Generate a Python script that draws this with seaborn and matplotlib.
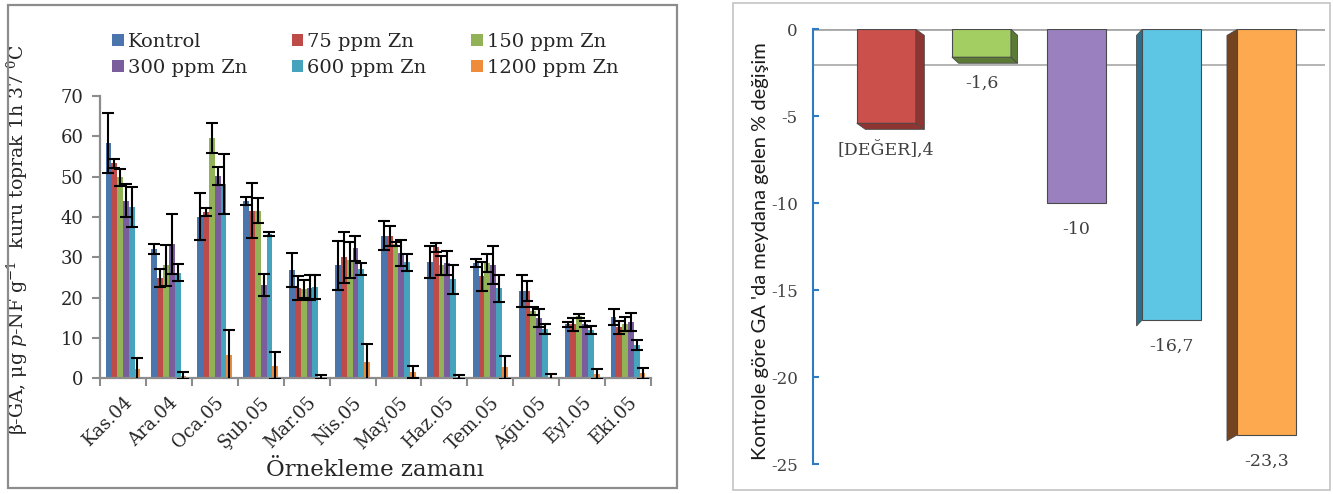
import numpy as np
import pandas as pd
import matplotlib
matplotlib.use("Agg")
import matplotlib.pyplot as plt
from matplotlib.patches import Patch, Polygon, Rectangle
import seaborn as sns

# ---------------- data ----------------
months = ["Kas.04", "Ara.04", "Oca.05", "Şub.05", "Mar.05", "Nis.05",
          "May.05", "Haz.05", "Tem.05", "Ağu.05", "Eyl.05", "Eki.05"]
series = ["Kontrol", "75 ppm Zn", "150 ppm Zn", "300 ppm Zn", "600 ppm Zn", "1200 ppm Zn"]

kontrol = [58.4, 32.0, 40.1, 44.0, 26.9, 28.0, 35.3, 28.8, 28.5, 21.6, 13.4, 15.1]
kontrol_err = [7.4, 1.3, 5.8, 1.0, 4.2, 6.0, 3.6, 4.0, 1.0, 4.0, 0.6, 2.0]
zn75 = [53.3, 24.8, 41.3, 41.6, 22.3, 30.0, 35.3, 32.5, 25.3, 21.6, 13.4, 12.7]
zn75_err = [1.2, 2.2, 1.0, 6.8, 3.0, 6.3, 2.5, 1.1, 3.6, 2.5, 1.6, 1.6]
zn150 = [49.8, 28.0, 59.6, 41.6, 22.1, 29.3, 33.3, 28.0, 28.5, 16.7, 15.4, 13.4]
zn150_err = [2.1, 5.0, 3.8, 3.1, 2.3, 4.5, 0.4, 2.4, 2.2, 1.1, 0.5, 1.7]
zn300 = [44.0, 33.3, 50.2, 23.1, 22.5, 32.2, 31.0, 28.5, 28.2, 14.9, 13.4, 13.9]
zn300_err = [4.1, 7.4, 2.3, 2.7, 3.0, 3.0, 3.2, 3.0, 4.7, 2.3, 0.8, 2.2]
zn600 = [42.5, 26.2, 48.2, 35.7, 22.7, 27.0, 28.8, 24.5, 22.3, 12.2, 12.0, 8.2]
zn600_err = [5.0, 2.1, 7.4, 0.5, 3.0, 1.5, 2.1, 3.5, 3.3, 1.2, 0.9, 1.2]
zn1200 = [2.3, 0.65, 5.8, 3.1, 0.3, 4.0, 1.5, 0.3, 2.7, 0.3, 1.0, 1.2]
zn1200_err = [2.7, 0.8, 6.2, 3.3, 0.5, 4.4, 1.5, 0.4, 2.8, 0.7, 1.2, 1.3]

values = [kontrol, zn75, zn150, zn300, zn600, zn1200]
errors = [kontrol_err, zn75_err, zn150_err, zn300_err, zn600_err, zn1200_err]
colors_left = ["#4A76AD", "#BE4B48", "#92B257", "#7A5D9C", "#46A3BE", "#EE8C3C"]
y_ticks_left = [0, 10, 20, 30, 40, 50, 60, 70]

change_series = ["75 ppm Zn", "150 ppm Zn", "300 ppm Zn", "600 ppm Zn", "1200 ppm Zn"]
change_values = [-5.4, -1.6, -10.0, -16.7, -23.3]
change_labels = ["[DEĞER],4", "-1,6", "-10", "-16,7", "-23,3"]
colors_right = ["#CB4F4B", "#A3CF62", "#9A80BF", "#5CC6E4", "#FCA94F"]
side_colors = ["#8E3532", "#5A7A35", "#6A5590", "#2C6F8A", "#74431F"]
y_ticks_right = [0, -5, -10, -15, -20, -25]

# ---------------- style ----------------
sns.set_theme(style="white")
plt.rcParams["font.family"] = ["DejaVu Serif"]
plt.rcParams["mathtext.fontset"] = "dejavuserif"

W, H = 1333, 494
fig = plt.figure(figsize=(W / 100, H / 100), dpi=100)
fig.patch.set_facecolor("white")

# panel borders
fig.patches.append(Rectangle((8 / W, 1 - 488 / H), (677 - 8) / W, (488 - 5) / H,
                             transform=fig.transFigure, fill=False,
                             edgecolor="#8C8C8C", lw=1.6, zorder=0))
fig.patches.append(Rectangle((733 / W, 1 - 490 / H), (1330 - 733) / W, (490 - 3) / H,
                             transform=fig.transFigure, fill=False,
                             edgecolor="#C4C4C4", lw=1.2, zorder=0))

# ---------------- left chart ----------------
axL = fig.add_axes([100 / W, (H - 378.3) / H, 551 / W, 282.3 / H])
rows = []
for s, vals in zip(series, values):
    for m, v in zip(months, vals):
        rows.append({"Ay": m, "Seri": s, "Deger": v})
df = pd.DataFrame(rows)
sns.barplot(data=df, x="Ay", y="Deger", hue="Seri", order=months, hue_order=series,
            palette=colors_left, width=0.76, errorbar=None, saturation=1,
            legend=False, ax=axL, linewidth=0)

for cont, errs in zip(axL.containers, errors):
    xs = [b.get_x() + b.get_width() / 2 for b in cont]
    ys = [b.get_height() for b in cont]
    axL.errorbar(xs, ys, yerr=errs, fmt="none", ecolor="black",
                 elinewidth=1.5, capsize=4.2, capthick=1.5, zorder=5)

axL.set_ylim(0, 70)
axL.set_xlim(-0.5, len(months) - 0.5)
axL.set_yticks(y_ticks_left)
axL.set_yticklabels([str(t) for t in y_ticks_left], fontsize=13)
axL.set_xticks(range(len(months)))
axL.set_xticklabels(months, fontsize=13, rotation=45, ha="right", va="top",
                    rotation_mode="anchor")
axL.set_xticks(np.arange(-0.5, len(months), 1.0), minor=True)
axL.tick_params(axis="x", which="major", length=0, pad=11)
axL.tick_params(axis="x", which="minor", length=6, width=1.5, color="#8C8C8C",
                direction="out", bottom=True)
axL.tick_params(axis="y", length=6, width=1.5, color="#8C8C8C", direction="out",
                left=True, pad=6)
for sp in ["top", "right"]:
    axL.spines[sp].set_visible(False)
for sp in ["left", "bottom"]:
    axL.spines[sp].set_color("#8C8C8C")
    axL.spines[sp].set_linewidth(1.6)
axL.set_xlabel("Örnekleme zamanı", fontsize=16.5, labelpad=4)
axL.set_ylabel(r"β-GA, μg $\it{p}$-NF g$^{-1}$  kuru toprak 1h 37 $^{0}$C", fontsize=13.6)
axL.yaxis.set_label_coords(-0.127, 0.49)

handles = [Patch(facecolor=c, edgecolor="none") for c in colors_left]
order = [0, 3, 1, 4, 2, 5]
axL.legend([handles[i] for i in order], [series[i] for i in order], ncol=3,
           loc="upper left", bbox_to_anchor=(112 / W, 1 - 33 / H),
           bbox_transform=fig.transFigure, frameon=False, fontsize=14,
           handlelength=0.6, handleheight=0.6, handletextpad=0.2,
           columnspacing=2.3, labelspacing=0.42, borderpad=0, borderaxespad=0)

# ---------------- right chart ----------------
axR = fig.add_axes([813 / W, (H - 464.3) / H, (1325 - 813) / W, 435 / H])
axR.axhline(-2.05, color="#A8A8A8", lw=1.2, zorder=0)
axR.axhline(0, color="#A6A6A6", lw=2.0, zorder=0)
sns.barplot(x=change_series, y=change_values, hue=change_series, palette=colors_right,
            width=0.62, dodge=False, saturation=1, legend=False, ax=axR,
            edgecolor="#4A4A4A", linewidth=0.8, errorbar=None)

dxs = [0.09, 0.07, 0.0, 0.06, 0.11]
dy = 0.35
for i, b in enumerate(axR.patches[:len(change_values)]):
    x0, x1 = b.get_x(), b.get_x() + b.get_width()
    top, bot = 0.0, b.get_height()
    dx = dxs[i]
    if i < 2:
        side = [(x1, top), (x1 + dx, top - dy), (x1 + dx, bot - dy), (x1, bot)]
        bottom_face = [(x0, bot), (x1, bot), (x1 + dx, bot - dy), (x0 + dx, bot - dy)]
        axR.add_patch(Polygon(bottom_face, closed=True, facecolor=side_colors[i],
                              edgecolor="#4A4A4A", lw=0.6, zorder=1.5))
    elif i > 2:
        side = [(x0, top), (x0 - dx, top - dy), (x0 - dx, bot - dy), (x0, bot)]
    else:
        continue
    axR.add_patch(Polygon(side, closed=True, facecolor=side_colors[i],
                          edgecolor="#4A4A4A", lw=0.6, zorder=1.5))

for i, (v, lab) in enumerate(zip(change_values, change_labels)):
    axR.annotate(lab, xy=(i, v), xytext=(0, -19), textcoords="offset points",
                 ha="center", va="center", fontsize=12.5, color="#404040")

axR.set_ylim(-25, 0)
axR.set_xlim(-0.77, 4.61)
axR.set_yticks(y_ticks_right)
axR.set_yticklabels([str(t) for t in y_ticks_right], fontsize=12, color="#404040")
axR.set_xticks([])
axR.tick_params(axis="y", length=4, width=1.5, color="#2E7BC4", direction="in",
                left=True, pad=11)
for sp in ["top", "right", "bottom"]:
    axR.spines[sp].set_visible(False)
axR.spines["left"].set_color("#2E7BC4")
axR.spines["left"].set_linewidth(1.5)
axR.set_ylabel("Kontrole göre GA 'da meydana gelen % değişim", fontsize=14.5,
               family=["Lato", "DejaVu Sans"], color="#1A1A1A")
axR.yaxis.set_label_coords(-0.085, 0.49)

fig.savefig("out.png", dpi=100, facecolor="white")
